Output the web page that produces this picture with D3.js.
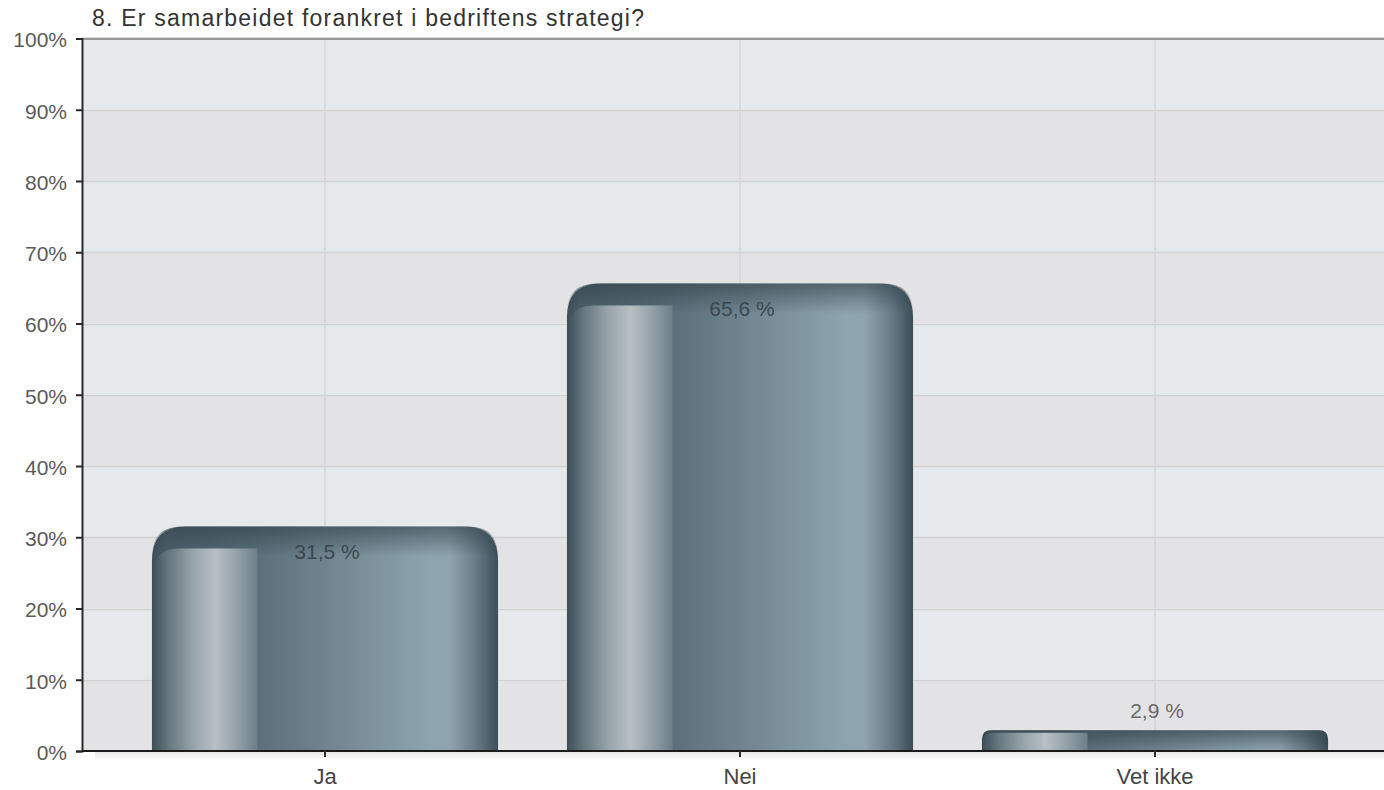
<!DOCTYPE html>
<html>
<head>
<meta charset="utf-8">
<script src="https://cdn.jsdelivr.net/npm/d3@7"></script>
<style>
  html, body { margin: 0; padding: 0; background: #fff; }
  svg { display: block; font-family: "Liberation Sans", Arial, Helvetica, sans-serif; }
</style>
</head>
<body>
<svg id="chart" width="1384" height="790"></svg>
<script>
const title = "8. Er samarbeidet forankret i bedriftens strategi?";
const categories = ["Ja", "Nei", "Vet ikke"];
const values = [31.5, 65.6, 2.9];
const valueLabels = ["31,5 %", "65,6 %", "2,9 %"];
const yTicks = [0, 10, 20, 30, 40, 50, 60, 70, 80, 90, 100];

const W = 1384, H = 790;
const plot = { left: 82, right: 1384, top: 38.5, bottom: 751 };

const svg = d3.select("#chart");
const defs = svg.append("defs");

function grad(id, stops, vertical) {
  const g = defs.append("linearGradient").attr("id", id)
    .attr("x1", 0).attr("y1", 0).attr("x2", vertical ? 0 : 1).attr("y2", vertical ? 1 : 0);
  stops.forEach(s => g.append("stop").attr("offset", s[0]).attr("stop-color", s[1]).attr("stop-opacity", s[2] == null ? 1 : s[2]));
}
grad("bodyGrad", [[0, "#3d4f59"], [0.04, "#4e616b"], [0.3, "#5b6f7a"], [0.55, "#748994"], [0.8, "#8da3ae"], [0.86, "#8fa4af"], [0.93, "#6b7f8a"], [1, "#3c4e58"]]);
grad("panelGrad", [[0, "#3e505a"], [0.15, "#66777f"], [0.4, "#9aa6ad"], [0.6, "#b8bfc5"], [0.8, "#94a1a9"], [1, "#6c7e88"]]);
grad("capGrad", [[0, "#2e3f48", 0.6], [1, "#2e3f48", 0]], true);
grad("shadowGrad", [[0, "#000", 0.09], [1, "#000", 0]], true);

const y = d3.scaleLinear().domain([0, 100]).range([plot.bottom, plot.top]);
const x = d3.scaleBand().domain(categories).range([117.5, 1362.5]).paddingInner(0.166).paddingOuter(0.083);

// background bands
const bands = yTicks.slice(0, -1);
svg.append("g").selectAll("rect").data(bands).join("rect")
  .attr("x", plot.left).attr("width", plot.right - plot.left)
  .attr("y", d => y(d + 10)).attr("height", d => y(d) - y(d + 10))
  .attr("fill", d => (d / 10) % 2 === 0 ? "#e3e3e5" : "#e5e9ec");

// horizontal gridlines
svg.append("g").selectAll("line").data(yTicks.filter(d => d > 0 && d < 100)).join("line")
  .attr("x1", plot.left).attr("x2", plot.right)
  .attr("y1", d => Math.round(y(d)) + 0.5).attr("y2", d => Math.round(y(d)) + 0.5)
  .attr("stroke", "#d2d2d4").attr("stroke-width", 1.5);

// vertical gridlines
svg.append("g").selectAll("line").data(categories).join("line")
  .attr("x1", d => x(d) + x.bandwidth() / 2).attr("x2", d => x(d) + x.bandwidth() / 2)
  .attr("y1", plot.top).attr("y2", plot.bottom)
  .attr("stroke", "#d4d4d6").attr("stroke-width", 1.5);

// top border (100% line)
svg.append("line").attr("x1", plot.left).attr("x2", plot.right)
  .attr("y1", plot.top + 0.5).attr("y2", plot.top + 0.5)
  .attr("stroke", "#9a9a9a").attr("stroke-width", 2);
svg.append("line").attr("x1", plot.left).attr("x2", plot.right)
  .attr("y1", plot.top - 1).attr("y2", plot.top - 1)
  .attr("stroke", "#dcdcdc").attr("stroke-width", 1);

// shadow under x axis
svg.append("rect").attr("x", 95).attr("y", plot.bottom + 1).attr("width", plot.right - 95).attr("height", 9)
  .attr("fill", "url(#shadowGrad)");

function topRounded(x0, y0, w, h, r) {
  r = Math.min(r, h, w / 2);
  return `M${x0},${y0 + h} L${x0},${y0 + r} Q${x0},${y0} ${x0 + r},${y0} L${x0 + w - r},${y0} Q${x0 + w},${y0} ${x0 + w},${y0 + r} L${x0 + w},${y0 + h} Z`;
}
function leftRounded(x0, y0, w, h, r) {
  r = Math.min(r, h, w);
  return `M${x0},${y0 + h} L${x0},${y0 + r} Q${x0},${y0} ${x0 + r},${y0} L${x0 + w},${y0} L${x0 + w},${y0 + h} Z`;
}

const data = categories.map((c, i) => ({ c, v: values[i], label: valueLabels[i] }));
const bars = svg.append("g").selectAll("g").data(data).join("g");

bars.each(function(d) {
  const g = d3.select(this);
  const bx = x(d.c), bw = x.bandwidth();
  const top = y(d.v), h = y(0) - top;
  const r = Math.min(34, h * 0.45);
  g.append("path").attr("d", topRounded(bx, top, bw, h, r)).attr("fill", "url(#bodyGrad)");
  const capH = Math.min(30, h);
  g.append("path").attr("d", topRounded(bx, top, bw, capH, r)).attr("fill", "url(#capGrad)");
  const off = Math.min(22, h * 0.12);
  const pw = bw * 0.305;
  g.append("path").attr("d", leftRounded(bx + 1, top + off, pw - 1, h - off, Math.min(26, r)))
    .attr("fill", "url(#panelGrad)");
});

// value labels
svg.append("g").selectAll("text").data(data).join("text")
  .attr("x", d => x(d.c) + x.bandwidth() / 2 + 2)
  .attr("y", d => (y(0) - y(d.v) > 60) ? y(d.v) + 32 : y(d.v) - 12)
  .attr("text-anchor", "middle")
  .attr("font-size", 21)
  .attr("fill", d => (y(0) - y(d.v) > 60) ? "#3b4850" : "#6a6a6a")
  .text(d => d.label);

// y axis
const yAxis = svg.append("g").attr("transform", `translate(${plot.left},0)`)
  .call(d3.axisLeft(y).tickValues(yTicks).tickFormat(d => d + "%").tickSize(6).tickPadding(9));
yAxis.select(".domain").attr("stroke", "#2a2a2a").attr("stroke-width", 2);
yAxis.selectAll(".tick line").attr("stroke", "#2a2a2a").attr("stroke-width", 2);
yAxis.selectAll("text").attr("font-size", 21).attr("fill", "#5a5a5a").attr("dy", "0.4em")
  .attr("font-family", "Liberation Sans, Arial, sans-serif");

// x axis
const xAxis = svg.append("g").attr("transform", `translate(0,${plot.bottom})`)
  .call(d3.axisBottom(x).tickSize(6).tickPadding(11).tickSizeOuter(0));
xAxis.select(".domain").attr("d", `M${plot.left},0H${plot.right}`).attr("stroke", "#1a1a1a").attr("stroke-width", 2);
xAxis.selectAll(".tick line").attr("stroke", "#2a2a2a").attr("stroke-width", 2);
xAxis.selectAll("text").attr("font-size", 22).attr("fill", "#444").attr("font-family", "Liberation Sans, Arial, sans-serif");

// title
svg.append("text").attr("x", 92).attr("y", 26).attr("font-size", 23).attr("fill", "#333")
  .attr("textLength", 552).attr("lengthAdjust", "spacing").text(title);
</script>
</body>
</html>
